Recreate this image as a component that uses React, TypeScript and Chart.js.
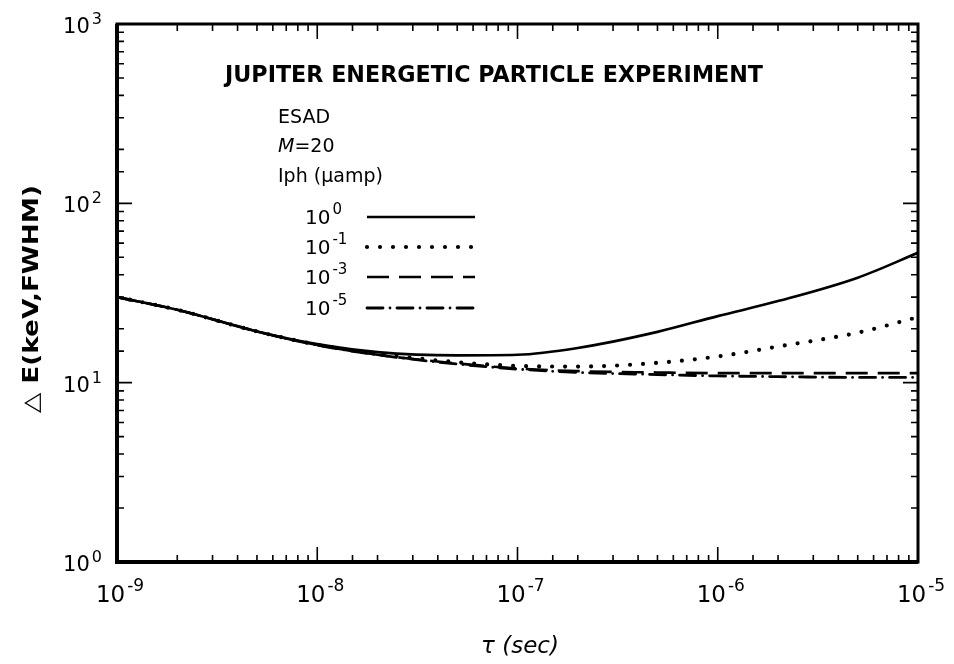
import React, { useEffect, useRef } from 'react';
import { Chart, registerables } from 'chart.js';

Chart.register(...registerables);

// ---- data ----
const tauSec = [1e-9, 2e-9, 5e-9, 1e-8, 2e-8, 5e-8, 1e-7, 2e-7, 5e-7, 1e-6, 2e-6, 5e-6, 1e-5];
const iphE0 = [30, 25.5, 19.3, 16.4, 14.8, 14.2, 14.3, 15.6, 19.2, 23.5, 28.5, 38.5, 53];
const iphE1 = [30, 25.5, 19.3, 16.3, 14.5, 13.0, 12.4, 12.3, 12.9, 14.0, 15.9, 19.0, 23.2];
const iphE3 = [30, 25.5, 19.3, 16.2, 14.3, 12.8, 12.0, 11.6, 11.4, 11.3, 11.3, 11.3, 11.3];
const iphE5 = [30, 25.5, 19.3, 16.2, 14.3, 12.7, 11.9, 11.4, 11.1, 10.9, 10.8, 10.7, 10.7];

const xTickValues = [1e-9, 1e-8, 1e-7, 1e-6, 1e-5];
const xTickExponents = ['-9', '-8', '-7', '-6', '-5'];
const yTickValues = [1, 10, 100, 1000];
const yTickExponents = ['0', '1', '2', '3'];
const legendExponents = ['0', '-1', '-3', '-5'];

const chartTitle = 'JUPITER ENERGETIC PARTICLE EXPERIMENT';
const infoLines = ['ESAD', '=20', 'Iph (μamp)'];
const xAxisTitle = 'τ (sec)';
const yAxisTitle = '△ E(keV,FWHM)';

const FONT = '"DejaVu Sans", "Liberation Sans", sans-serif';

const seriesStyles = [
  { borderWidth: 2.6, borderDash: [] as number[], cap: 'butt' },
  { borderWidth: 4.2, borderDash: [0, 13], cap: 'round' },
  { borderWidth: 2.6, borderDash: [22, 10], cap: 'butt' },
  { borderWidth: 2.8, borderDash: [16, 7, 0, 7], cap: 'round' },
];

function drawPow(ctx: CanvasRenderingContext2D, x: number, y: number, exp: string, baseSize: number, expSize: number, rise: number, align: string) {
  ctx.font = `${baseSize}px ${FONT}`;
  const wb = ctx.measureText('10').width;
  ctx.font = `${expSize}px ${FONT}`;
  const we = ctx.measureText(exp).width;
  const gap = 2;
  const total = wb + gap + we;
  const x0 = align === 'left' ? x : align === 'right' ? x - total : x - total / 2;
  ctx.textAlign = 'left';
  ctx.textBaseline = 'alphabetic';
  ctx.font = `${baseSize}px ${FONT}`;
  ctx.fillText('10', x0, y);
  ctx.font = `${expSize}px ${FONT}`;
  ctx.fillText(exp, x0 + wb + gap, y - rise);
}

function fitText(ctx: CanvasRenderingContext2D, text: string, x: number, y: number, width: number) {
  const w = ctx.measureText(text).width;
  ctx.save();
  ctx.translate(x, y);
  ctx.scale(width / w, 1);
  ctx.textAlign = 'left';
  ctx.fillText(text, 0, 0);
  ctx.restore();
}

const framePlugin = {
  id: 'framePlugin',
  afterDraw(chart: any) {
    const ctx: CanvasRenderingContext2D = chart.ctx;
    const { left, right, top, bottom } = chart.chartArea;
    const xs = chart.scales.x;
    const ys = chart.scales.y;
    ctx.save();
    ctx.strokeStyle = '#000';
    ctx.fillStyle = '#000';

    // frame
    ctx.lineWidth = 3;
    ctx.beginPath();
    ctx.moveTo(left, top);
    ctx.lineTo(right, top);
    ctx.lineTo(right, bottom);
    ctx.lineTo(left, bottom);
    ctx.closePath();
    ctx.stroke();
    ctx.lineWidth = 4;
    ctx.beginPath();
    ctx.moveTo(left, top);
    ctx.lineTo(left, bottom);
    ctx.lineTo(right, bottom);
    ctx.stroke();

    const isMajor = (v: number) => Math.abs(Math.log10(v) - Math.round(Math.log10(v))) < 1e-6;

    // ticks inward on all four sides
    ctx.lineWidth = 1.6;
    ctx.beginPath();
    for (const t of xs.ticks) {
      const px = xs.getPixelForValue(t.value);
      if (px < left - 0.5 || px > right + 0.5) continue;
      const len = isMajor(t.value) ? 15 : 7;
      ctx.moveTo(px, bottom);
      ctx.lineTo(px, bottom - len);
      ctx.moveTo(px, top);
      ctx.lineTo(px, top + len);
    }
    for (const t of ys.ticks) {
      const py = ys.getPixelForValue(t.value);
      if (py < top - 0.5 || py > bottom + 0.5) continue;
      const len = isMajor(t.value) ? 15 : 7;
      ctx.moveTo(left, py);
      ctx.lineTo(left + len, py);
      ctx.moveTo(right, py);
      ctx.lineTo(right - len, py);
    }
    ctx.stroke();

    // tick labels
    xTickValues.forEach((v, i) => {
      const px = xs.getPixelForValue(v);
      drawPow(ctx, px + 3, bottom + 40, xTickExponents[i], 23, 17, 11, 'center');
    });
    yTickValues.forEach((v, i) => {
      const py = ys.getPixelForValue(v);
      drawPow(ctx, 94, py + 9, yTickExponents[i], 21, 16, 9, 'right');
    });

    // axis titles
    ctx.font = `bold 22px ${FONT}`;
    ctx.save();
    ctx.translate(30, 291);
    ctx.rotate(-Math.PI / 2);
    ctx.textBaseline = 'alphabetic';
    const yw = ctx.measureText(yAxisTitle).width;
    ctx.scale(228 / yw, 1);
    ctx.textAlign = 'center';
    ctx.fillText(yAxisTitle, 0, 0);
    ctx.restore();

    ctx.font = `italic 23px ${FONT}`;
    ctx.textAlign = 'center';
    ctx.textBaseline = 'alphabetic';
    ctx.fillText(xAxisTitle, 512, 645);

    // chart title
    ctx.font = `bold 23px ${FONT}`;
    ctx.textBaseline = 'alphabetic';
    fitText(ctx, chartTitle, 217, 74, 538);

    // info lines
    ctx.font = `19px ${FONT}`;
    ctx.textAlign = 'left';
    ctx.fillText(infoLines[0], 270, 115);
    ctx.font = `italic 19px ${FONT}`;
    ctx.fillText('M', 270, 144);
    const mw = ctx.measureText('M').width;
    ctx.font = `19px ${FONT}`;
    ctx.fillText(infoLines[1], 270 + mw, 144);
    ctx.fillText(infoLines[2], 270, 174);

    // legend rows
    const rows = [209, 239, 269, 300];
    chart.data.datasets.forEach((ds: any, i: number) => {
      const ry = rows[i];
      ctx.fillStyle = '#000';
      drawPow(ctx, 297, ry + 7, legendExponents[i], 20, 15, 10, 'left');
      const st = seriesStyles[i];
      ctx.beginPath();
      ctx.lineWidth = st.borderWidth;
      ctx.setLineDash(st.borderDash);
      ctx.lineCap = st.cap as CanvasLineCap;
      ctx.moveTo(359, ry);
      ctx.lineTo(467, ry);
      ctx.stroke();
      ctx.setLineDash([]);
      ctx.lineCap = 'butt';
    });

    ctx.restore();
  },
};

export default function App() {
  const canvasRef = useRef<HTMLCanvasElement | null>(null);

  useEffect(() => {
    if (!canvasRef.current) return;
    const mk = (vals: number[]) => tauSec.map((t, i) => ({ x: t, y: vals[i] }));
    const all = [iphE0, iphE1, iphE3, iphE5];
    const labels = ['10^0', '10^-1', '10^-3', '10^-5'];
    const chart = new Chart(canvasRef.current, {
      type: 'line',
      data: {
        datasets: all.map((vals, i) => ({
          label: labels[i],
          data: mk(vals),
          borderColor: '#000',
          backgroundColor: '#000',
          borderWidth: seriesStyles[i].borderWidth,
          borderDash: seriesStyles[i].borderDash,
          borderCapStyle: seriesStyles[i].cap as any,
          pointRadius: 0,
          fill: false,
          cubicInterpolationMode: 'monotone' as const,
        })),
      },
      options: {
        responsive: false,
        animation: false,
        events: [],
        layout: { padding: { top: 16, right: 28, left: 0, bottom: 0 } },
        plugins: {
          legend: { display: false },
          tooltip: { enabled: false },
          title: { display: false },
        },
        scales: {
          x: {
            type: 'logarithmic',
            min: 1e-9,
            max: 1e-5,
            grid: { display: false },
            border: { display: false },
            ticks: { display: false, autoSkip: false },
            afterFit: (s: any) => { s.height = 94; },
          },
          y: {
            type: 'logarithmic',
            min: 1,
            max: 1000,
            grid: { display: false },
            border: { display: false },
            ticks: { display: false, autoSkip: false },
            afterFit: (s: any) => { s.width = 109; },
          },
        },
      },
      plugins: [framePlugin],
    });
    return () => chart.destroy();
  }, []);

  return (
    <div style={{ width: 938, height: 648 }}>
      <canvas ref={canvasRef} width={938} height={648} style={{ display: 'block' }} />
    </div>
  );
}
